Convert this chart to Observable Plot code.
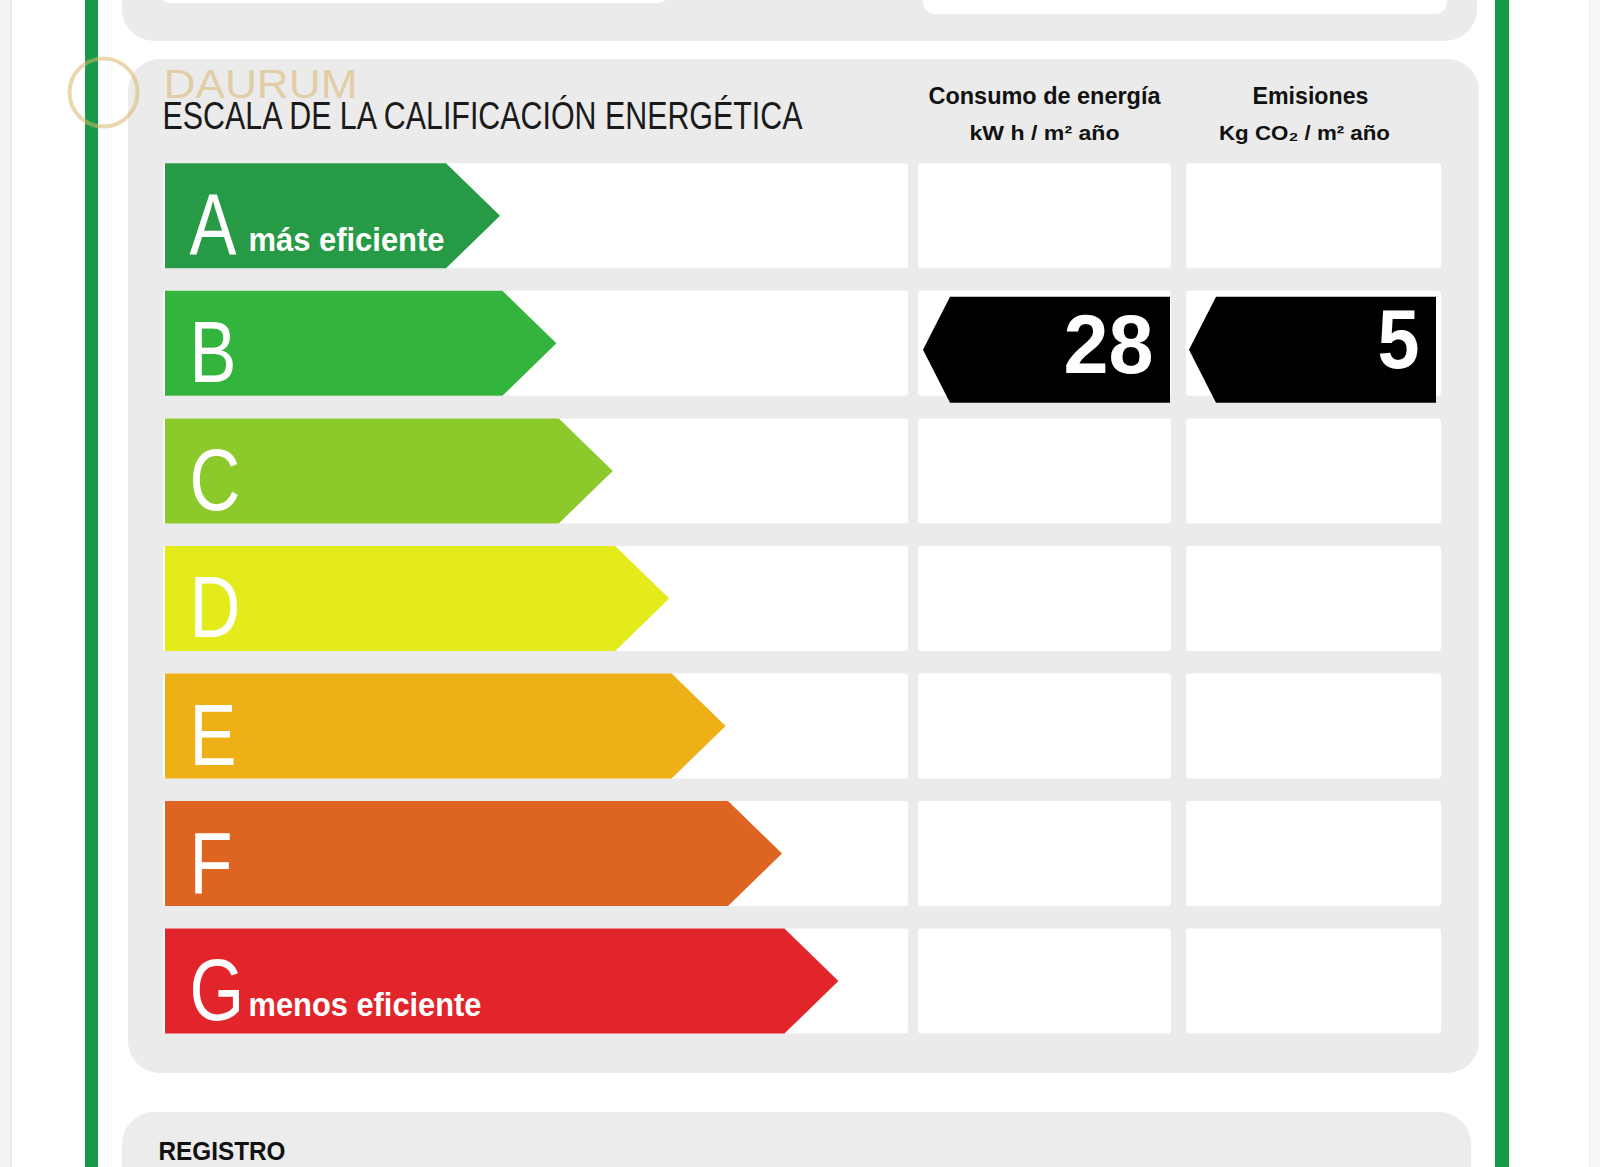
<!DOCTYPE html>
<html>
<head>
<meta charset="utf-8">
<script src="https://cdn.jsdelivr.net/npm/d3@7"></script>
<script src="https://cdn.jsdelivr.net/npm/@observablehq/plot@0.6"></script>
<style>
  html, body { margin: 0; padding: 0; background: #fff; overflow: hidden; }
  #chart svg { display: block; overflow: hidden; }
</style>
</head>
<body>
<div id="chart"></div>
<script>
// ---------- DATA ----------
const ratings = ["A", "B", "C", "D", "E", "F", "G"];
const ratingColors = ["#279a45", "#33b43c", "#8cc92b", "#e3eb1a", "#edb016", "#de6521", "#e2242b"];
const ratingNotes = ["más eficiente", "", "", "", "", "", "menos eficiente"];
const columnTitles = ["Consumo de energía", "Emisiones"];
const columnUnits = ["kW h / m² año", "Kg CO₂ / m² año"];
const columnRatings = ["B", "B"];
const columnValues = [28, 5];
const labelTitle = "ESCALA DE LA CALIFICACIÓN ENERGÉTICA";
const brandName = "DAURUM";
const footerTitle = "REGISTRO";

// ---------- LAYOUT ----------
const W = 1600, H = 1167;
const SANS = "'Liberation Sans',Arial,Helvetica,sans-serif";
const rowTop = 163.3, pitch = 127.55, rowH = 105;
const rowY = i => rowTop + i * pitch;
const arrowX0 = 165, tip0 = 500, tipStep = 56.4, tipDepth = 54;
const scaleBand = [163, 908];
const cols = [[918, 1171], [1186, 1441]];
const colCenters = [1044, 1310];

const rows = ratings.map((r, i) => ({rating: r, i, color: ratingColors[i], note: ratingNotes[i]}));

const arrowPts = rows.flatMap(d => {
  const tip = tip0 + d.i * tipStep, flat = tip - tipDepth, y0 = rowY(d.i);
  return [
    {rating: d.rating, color: d.color, y: y0, x1: arrowX0, x2: flat},
    {rating: d.rating, color: d.color, y: y0 + rowH / 2, x1: arrowX0, x2: tip},
    {rating: d.rating, color: d.color, y: y0 + rowH, x1: arrowX0, x2: flat}
  ];
});

const cells = rows.flatMap(d => [
  {x1: scaleBand[0], x2: scaleBand[1], y1: rowY(d.i), y2: rowY(d.i) + rowH},
  ...cols.map(c => ({x1: c[0], x2: c[1], y1: rowY(d.i), y2: rowY(d.i) + rowH}))
]);

const valueArrows = columnValues.map((v, c) => {
  const r = ratings.indexOf(columnRatings[c]);
  const top = rowY(r) + 6, bottom = top + 106;
  const tip = cols[c][0] + (c === 0 ? 5 : 3), flat = tip + 27, right = cols[c][1] - (c === 0 ? 1 : 5);
  return {c, v, top, bottom, tip, flat, right};
});
const valuePts = valueArrows.flatMap(a => [
  {c: a.c, y: a.top, x1: a.flat, x2: a.right},
  {c: a.c, y: (a.top + a.bottom) / 2, x1: a.tip, x2: a.right},
  {c: a.c, y: a.bottom, x1: a.flat, x2: a.right}
]);

const panels = [
  {x1: 122, x2: 1477, y1: -60, y2: 41, fill: "#ebebeb"},
  {x1: 128, x2: 1479, y1: 59, y2: 1073, fill: "#ebebeb"},
  {x1: 122, x2: 1471, y1: 1112, y2: 1260, fill: "#ececec"}
];
const topBoxes = [
  {x1: 158, x2: 670, y1: -40, y2: 3},
  {x1: 923, x2: 1447, y1: -40, y2: 14}
];
const edges = [
  {x1: 0, x2: 11, fill: "#f2f2f2"},
  {x1: 11, x2: 12, fill: "#e6e6e6"},
  {x1: 1589, x2: 1590, fill: "#ececec"},
  {x1: 1590, x2: 1600, fill: "#f6f6f6"},
  {x1: 85, x2: 98, fill: "#17994a"},
  {x1: 1495, x2: 1509, fill: "#17994a"}
];

const chart = Plot.plot({
  width: W, height: H, margin: 0,
  x: {domain: [0, W], range: [0, W], axis: null},
  y: {domain: [0, H], range: [0, H], axis: null},
  color: {type: "identity"},
  style: {background: "#ffffff", fontFamily: SANS},
  marks: [
    Plot.rect(panels, {x1: "x1", x2: "x2", y1: "y1", y2: "y2", fill: "fill", rx: 32}),
    Plot.rect(topBoxes, {x1: "x1", x2: "x2", y1: "y1", y2: "y2", fill: "#ffffff", rx: 12}),
    Plot.rect(edges, {x1: "x1", x2: "x2", y1: 0, y2: H, fill: "fill"}),
    // logo watermark
    Plot.dot([{x: 103, y: 92}], {x: "x", y: "y", r: 34, stroke: "#d9b66c", strokeWidth: 4, fill: "none", strokeOpacity: 0.55}),
    Plot.text([brandName], {x: 163, y: 97, text: d => d, fill: "#d9b66c", fillOpacity: 0.55, fontSize: 40, fontFamily: SANS, textAnchor: "start", lineAnchor: "bottom"}),
    Plot.text([labelTitle], {x: 162, y: 128, text: d => d, fill: "#1a1a1a", fontSize: 39, fontFamily: SANS, textAnchor: "start", lineAnchor: "bottom"}),
    Plot.text(columnTitles, {x: (d, i) => colCenters[i], y: 103, text: d => d, fill: "#111", fontSize: 24, fontWeight: "bold", fontFamily: SANS, textAnchor: "middle", lineAnchor: "bottom"}),
    Plot.text(columnUnits, {x: (d, i) => colCenters[i] - (i ? 6 : 0), y: 139, text: d => d, fill: "#111", fontSize: 21, fontWeight: "bold", fontFamily: SANS, textAnchor: "middle", lineAnchor: "bottom"}),
    Plot.rect(cells, {x1: "x1", x2: "x2", y1: "y1", y2: "y2", fill: "#ffffff", rx: 3}),
    Plot.areaX(arrowPts, {y: "y", x1: "x1", x2: "x2", z: "rating", fill: "color", curve: "linear"}),
    Plot.text(rows, {x: 189, y: d => rowY(d.i) + 91, text: "rating", fill: "#ffffff", fontSize: 88, fontFamily: SANS, textAnchor: "start", lineAnchor: "bottom"}),
    Plot.text(rows.filter(d => d.note), {x: 248, y: d => rowY(d.i) + 87, text: "note", fill: "#ffffff", fontSize: 34, fontWeight: "bold", fontFamily: SANS, textAnchor: "start", lineAnchor: "bottom"}),
    Plot.areaX(valuePts, {y: "y", x1: "x1", x2: "x2", z: "c", fill: "#000000", curve: "linear"}),
    Plot.text(valueArrows, {x: d => d.right - 17, y: d => d.top + (d.c === 0 ? 76 : 71), text: d => String(d.v), fill: "#ffffff", fontSize: 84, fontWeight: "bold", fontFamily: SANS, textAnchor: "end", lineAnchor: "bottom"}),
    Plot.text([footerTitle], {x: 158, y: 1159, text: d => d, fill: "#111", fontSize: 26, fontWeight: "bold", fontFamily: SANS, textAnchor: "start", lineAnchor: "bottom"})
  ]
});

document.getElementById("chart").appendChild(chart);

// condense lettering to the reference's narrow typeface
const fit = {
  [labelTitle]: 640,
  [columnTitles[0]]: 232,
  [columnTitles[1]]: 116,
  [columnUnits[0]]: 150,
  [columnUnits[1]]: 171,
  [ratingNotes[0]]: 196,
  [ratingNotes[6]]: 233,
  [footerTitle]: 127,
  [brandName]: 194,
  "28": 90,
  "5": 42
};
d3.select(chart).selectAll("text").each(function() {
  const t = this.textContent;
  const w = fit[t] || this.getComputedTextLength() * 0.8;
  d3.select(this).attr("textLength", w).attr("lengthAdjust", "spacingAndGlyphs");
});
</script>
</body>
</html>
